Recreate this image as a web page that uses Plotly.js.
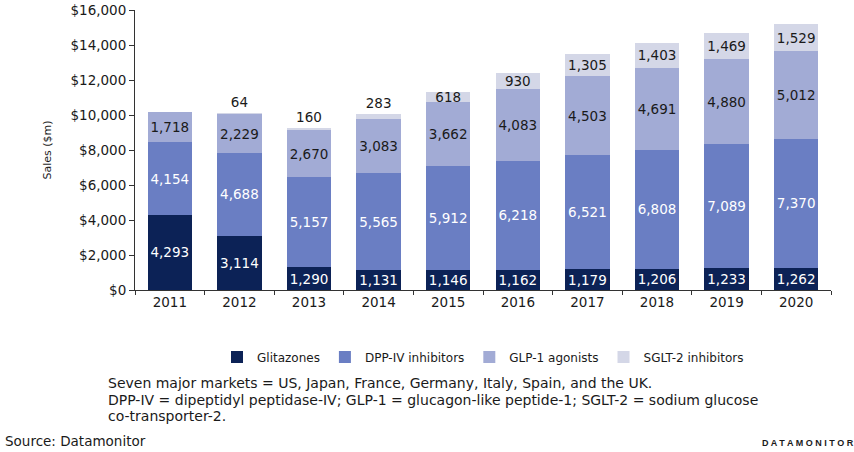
<!DOCTYPE html>
<html><head><meta charset="utf-8">
<script src="https://cdn.plot.ly/plotly-3.0.1.min.js"></script>
<style>body{margin:0;background:#fff}#c{width:854px;height:452px}</style>
</head><body><div id="c"></div>
<script>
const years = ['2011','2012','2013','2014','2015','2016','2017','2018','2019','2020'];
const glitazones = [4293,3114,1290,1131,1146,1162,1179,1206,1233,1262];
const dpp4 = [4154,4688,5157,5565,5912,6218,6521,6808,7089,7370];
const glp1 = [1718,2229,2670,3083,3662,4083,4503,4691,4880,5012];
const sglt2 = [0,64,160,283,618,930,1305,1403,1469,1529];
const seriesNames = ['Glitazones','DPP-IV inhibitors','GLP-1 agonists','SGLT-2 inhibitors'];
const footnotes = [
  'Seven major markets = US, Japan, France, Germany, Italy, Spain, and the UK.',
  'DPP-IV = dipeptidyl peptidase-IV; GLP-1 = glucagon-like peptide-1; SGLT-2 = sodium glucose',
  'co-transporter-2.'
];
const colors = ['#0c2256','#6a7ec3','#a2abd5','#d4d7e7'];
const textColors = ['#ffffff','#ffffff','#1a1a1a','#1a1a1a'];
const fmt = v => v ? v.toLocaleString('en-US') : '';
const font = 'DejaVu Sans, sans-serif';
const data = [glitazones, dpp4, glp1, sglt2].map((vals, i) => ({
  type: 'bar', x: years, y: vals, name: seriesNames[i],
  marker: {color: colors[i], line: {width: 0}},
  text: vals.map(fmt),
  textposition: i === 3 ? vals.map(v => v < 400 ? 'outside' : 'inside') : 'inside',
  insidetextanchor: 'middle', textangle: 0,
  constraintext: 'none', cliponaxis: false,
  textfont: {family: font, size: 13.5, color: textColors[i]},
  outsidetextfont: {family: font, size: 13.5, color: '#1a1a1a'},
  hoverinfo: 'none'
}));
const footY = [383, 400, 416].map(py => (290 - py) / 280);
const annotations = footnotes.map((t, k) => ({
  xref: 'paper', yref: 'paper', x: -0.0417, y: footY[k], xanchor: 'left', yanchor: 'middle',
  showarrow: false, font: {family: font, size: 14, color: '#1a1a1a'}, text: t
}));
annotations.push(
  {xref: 'paper', yref: 'paper', x: -0.19, y: -0.539, xanchor: 'left', yanchor: 'middle', showarrow: false,
   font: {family: font, size: 13.5, color: '#1a1a1a'}, text: 'Source: Datamonitor'},
  {xref: 'paper', yref: 'paper', x: 1.036, y: -0.546, xanchor: 'right', yanchor: 'middle', showarrow: false,
   font: {family: 'Liberation Sans, Arial, sans-serif', size: 9, color: '#1a1a1a'}, text: '<b>D A T A M O N I T O R</b>'}
);
const layout = {
  width: 854, height: 452, barmode: 'stack', bargap: 0.36,
  margin: {l: 135, r: 23, t: 10, b: 162},
  paper_bgcolor: '#fff', plot_bgcolor: '#fff',
  font: {family: font, size: 13.5, color: '#1a1a1a'},
  xaxis: {type: 'category', showline: true, linecolor: '#333', linewidth: 1, ticks: 'outside', tickson: 'boundaries',
          ticklen: 4, tickcolor: '#333', tickfont: {size: 13.5, color: '#1a1a1a'}, showgrid: false},
  yaxis: {range: [0, 16000], dtick: 2000, tickprefix: '$', tickformat: ',d', showline: true,
          linecolor: '#333', linewidth: 1, ticks: 'outside', ticklen: 5, tickcolor: '#333',
          showgrid: false, zeroline: false, tickfont: {size: 13.5, color: '#1a1a1a'},
          title: {text: 'Sales ($m)', font: {size: 11, color: '#1a1a1a'}, standoff: 16}},
  showlegend: true,
  legend: {orientation: 'h', traceorder: 'normal', x: 0.5, xanchor: 'center', y: -0.239, yanchor: 'middle',
           font: {size: 12, color: '#1a1a1a'}, itemwidth: 30, tracegroupgap: 0},
  annotations: annotations
};
Plotly.newPlot('c', data, layout, {displayModeBar: false, staticPlot: true});
</script></body></html>
